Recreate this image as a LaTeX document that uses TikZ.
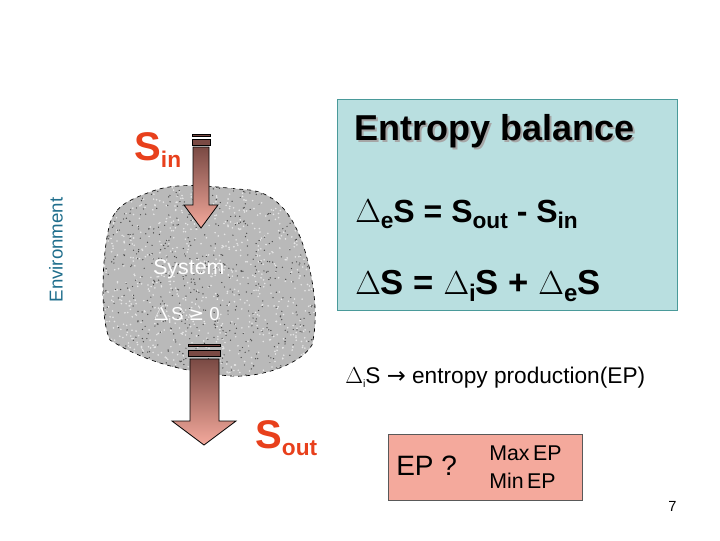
\documentclass[tikz,border=0pt]{standalone}
\usepackage{fontspec}
\setmainfont{Liberation Sans}
\newfontfamily\dejavu{DejaVu Sans}
\definecolor{envc}{HTML}{1F6E8C}
\definecolor{boxc}{HTML}{B9DFE0}
\definecolor{boxb}{HTML}{4A9A9A}
\definecolor{sred}{HTML}{E8401C}
\definecolor{arrtop}{HTML}{7A4A44}
\definecolor{arrbot}{HTML}{F4A99C}
\definecolor{epc}{HTML}{F4A99C}
\tikzset{
  lbl/.style={inner sep=0pt, anchor=base west},
  big/.style={lbl, font=\bfseries\fontsize{27}{30}\selectfont},
  bar/.style={fill=arrtop, draw=black, line width=0.5pt},
  fat/.style={draw=black, line width=0.6pt, top color=arrtop, bottom color=arrbot},
}
\begin{document}
\begin{tikzpicture}[x=0.75pt,y=-0.75pt]
\useasboundingbox (0,0) rectangle (720,540);
% environment
\node (env) [rotate=90, text=envc, font=\fontsize{14}{16}\selectfont, inner sep=0pt] at (56,250) {Environment};
% rock
\path[fill=gray!55, draw=black, dashed, line width=0.5pt] (108,232) .. controls (112,205) and (130,200) .. (150,192)
  .. controls (180,180) and (220,188) .. (250,190) .. controls (285,195) and (300,230) .. (308,262)
  .. controls (315,290) and (318,320) .. (312,345) .. controls (300,365) and (260,378) .. (230,376)
  .. controls (190,372) and (150,365) .. (110,340) .. controls (100,320) and (102,260) .. (108,232) -- cycle;
\pgfmathsetseed{7}
\begin{scope}
\clip (108,232) .. controls (112,205) and (130,200) .. (150,192)
  .. controls (180,180) and (220,188) .. (250,190) .. controls (285,195) and (300,230) .. (308,262)
  .. controls (315,290) and (318,320) .. (312,345) .. controls (300,365) and (260,378) .. (230,376)
  .. controls (190,372) and (150,365) .. (110,340) .. controls (100,320) and (102,260) .. (108,232) -- cycle;
\foreach \i in {1,...,900}{
  \pgfmathsetmacro{\px}{100+220*rnd}\pgfmathsetmacro{\py}{180+200*rnd}
  \fill[gray!20] (\px,\py) circle (0.9);
}
\foreach \i in {1,...,700}{
  \pgfmathsetmacro{\px}{100+220*rnd}\pgfmathsetmacro{\py}{180+200*rnd}
  \fill[black!70] (\px,\py) circle (0.7);
}
\end{scope}
\node (sys) [lbl, text=white, font=\fontsize{16}{18}\selectfont] at (153,274) {System};
\node (dis) [lbl, text=white, font=\fontsize{14}{16}\selectfont] at (153,320) {$\Delta$\raisebox{-0.35ex}{\scriptsize i}S {\dejavu ≥} 0};
% blue box
\node (bal) [draw=boxb, fill=boxc, line width=0.8pt, minimum width=340*0.75pt, minimum height=211*0.75pt, inner sep=0pt, anchor=north west] at (337,99) {};
\node (ebs) [big, text=gray!70] at (356,142) {Entropy balance};
\node (eb) [big] at (354,140) {Entropy balance};
\node (eq1) [lbl, font=\bfseries\fontsize{24}{28}\selectfont] at (355,222) {$\Delta$\raisebox{-0.4ex}{\fontsize{17}{19}\selectfont e}S = S\raisebox{-0.4ex}{\fontsize{17}{19}\selectfont out} - S\raisebox{-0.4ex}{\fontsize{17}{19}\selectfont in}};
\node (eq2) [lbl, font=\bfseries\fontsize{26}{30}\selectfont] at (355,294) {$\Delta$S = $\Delta$\raisebox{-0.4ex}{\fontsize{18}{20}\selectfont i}S + $\Delta$\raisebox{-0.4ex}{\fontsize{18}{20}\selectfont e}S};
% arrows
\node (sinb1) [bar, minimum width=18*0.75pt, minimum height=2*0.75pt, inner sep=0pt] at (201,135) {};
\node (sinb2) [bar, minimum width=18*0.75pt, minimum height=6*0.75pt, inner sep=0pt] at (201,142) {};
\path[fat] (193,147) -- (209,147) -- (209,205) -- (218,205) -- (201,228) -- (184,205) -- (193,205) -- cycle;
\node (soutb1) [bar, minimum width=32*0.75pt, minimum height=2*0.75pt, inner sep=0pt] at (204,345) {};
\node (soutb2) [bar, minimum width=32*0.75pt, minimum height=6*0.75pt, inner sep=0pt] at (204,353) {};
\path[fat] (190,359) -- (219,359) -- (219,421) -- (236,421) -- (204,445) -- (172,421) -- (190,421) -- cycle;
\node (sin) [lbl, text=sred, font=\bfseries\fontsize{30}{32}\selectfont] at (134,160) {S\raisebox{-0.35ex}{\fontsize{17}{19}\selectfont in}};
\node (sout) [lbl, text=sred, font=\bfseries\fontsize{30}{32}\selectfont] at (255,448) {S\raisebox{-0.35ex}{\fontsize{17}{19}\selectfont out}};
% EP
\node (ep) [lbl, font=\fontsize{17}{20}\selectfont] at (345,383) {$\Delta$\raisebox{-0.35ex}{\footnotesize i}S {\dejavu →} entropy production(EP)};
\node (epbox) [draw=gray!70!black, fill=epc, line width=0.6pt, minimum width=194*0.75pt, minimum height=66*0.75pt, inner sep=0pt, anchor=north west] at (388,434) {};
\node (epq) [lbl, font=\fontsize{21}{24}\selectfont] at (396,475) {EP ?};
\node (mx) [lbl, font=\fontsize{16}{18}\selectfont] at (489,460) {Max\,EP};
\node (mn) [lbl, font=\fontsize{16}{18}\selectfont] at (489,488) {Min\,EP};
\node (pg) [lbl, font=\fontsize{11}{13}\selectfont] at (668,511) {7};
\end{tikzpicture}
\end{document}
